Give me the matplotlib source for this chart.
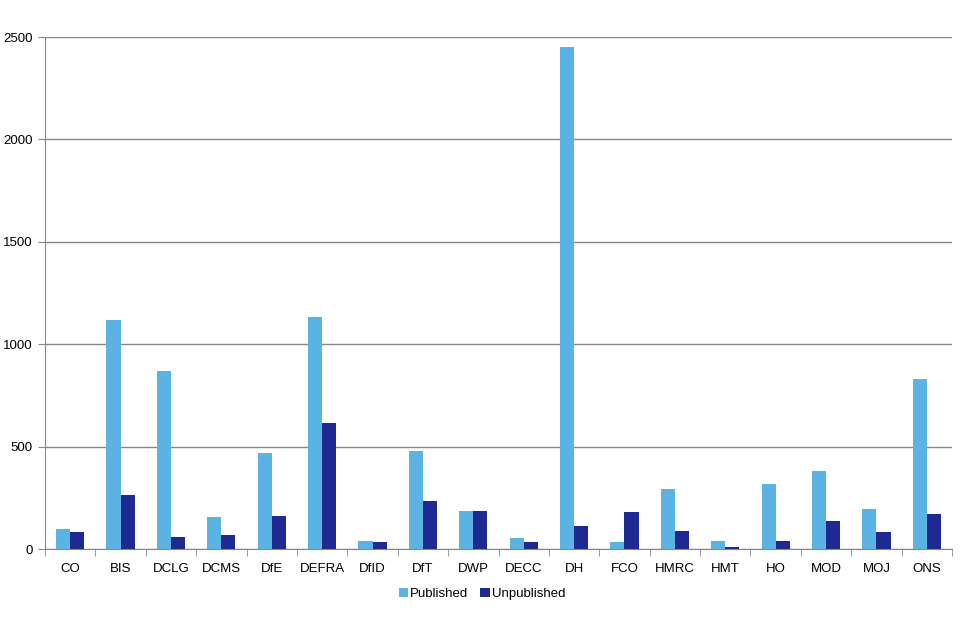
import numpy as np
import matplotlib
matplotlib.use('Agg')
import matplotlib.pyplot as plt
from matplotlib.ticker import FixedLocator

departments = ['CO', 'BIS', 'DCLG', 'DCMS', 'DfE', 'DEFRA', 'DfID', 'DfT', 'DWP',
               'DECC', 'DH', 'FCO', 'HMRC', 'HMT', 'HO', 'MOD', 'MOJ', 'ONS']
published = [97, 1116, 869, 155, 471, 1131, 39, 480, 184,
             53, 2450, 34, 291, 39, 316, 379, 194, 830]
unpublished = [83, 262, 58, 68, 160, 616, 34, 233, 184,
               34, 112, 180, 87, 10, 39, 136, 83, 170]

plt.rcParams['font.family'] = ['Liberation Sans', 'DejaVu Sans']

fig = plt.figure(figsize=(9.6, 6.4), dpi=100)
ax = fig.add_axes([45/960, 1-549/640, 907/960, 512/640])

x = np.arange(len(departments))
w = 0.28
ax.bar(x - w/2, published, w, color='#5BB3E4', label='Published', zorder=3)
ax.bar(x + w/2, unpublished, w, color='#1E2A92', label='Unpublished', zorder=3)

ax.set_xlim(-0.5, len(departments) - 0.5)
ax.set_ylim(0, 2500)
ax.set_yticks([0, 500, 1000, 1500, 2000, 2500])
ax.yaxis.grid(True, color='#888888', linewidth=1, zorder=0)

ax.set_xticks(x)
ax.set_xticklabels(departments)
ax.xaxis.set_minor_locator(FixedLocator(np.arange(-0.5, len(departments), 1)))
ax.tick_params(axis='x', which='major', length=0, pad=10, labelsize=9.5, colors='black')
ax.tick_params(axis='x', which='minor', length=5, color='#888888')
ax.tick_params(axis='y', length=5, color='#888888', labelsize=9.5, pad=4)

for s in ['top', 'right']:
    ax.spines[s].set_visible(False)
for s in ['left', 'bottom']:
    ax.spines[s].set_color('#888888')

ax.legend(loc='upper center', bbox_to_anchor=(0.482, -0.053), ncol=2, frameon=False,
          fontsize=9.5, handlelength=0.7, handleheight=0.7, handletextpad=0.15,
          columnspacing=0.9)

fig.savefig('out.png', dpi=100)
